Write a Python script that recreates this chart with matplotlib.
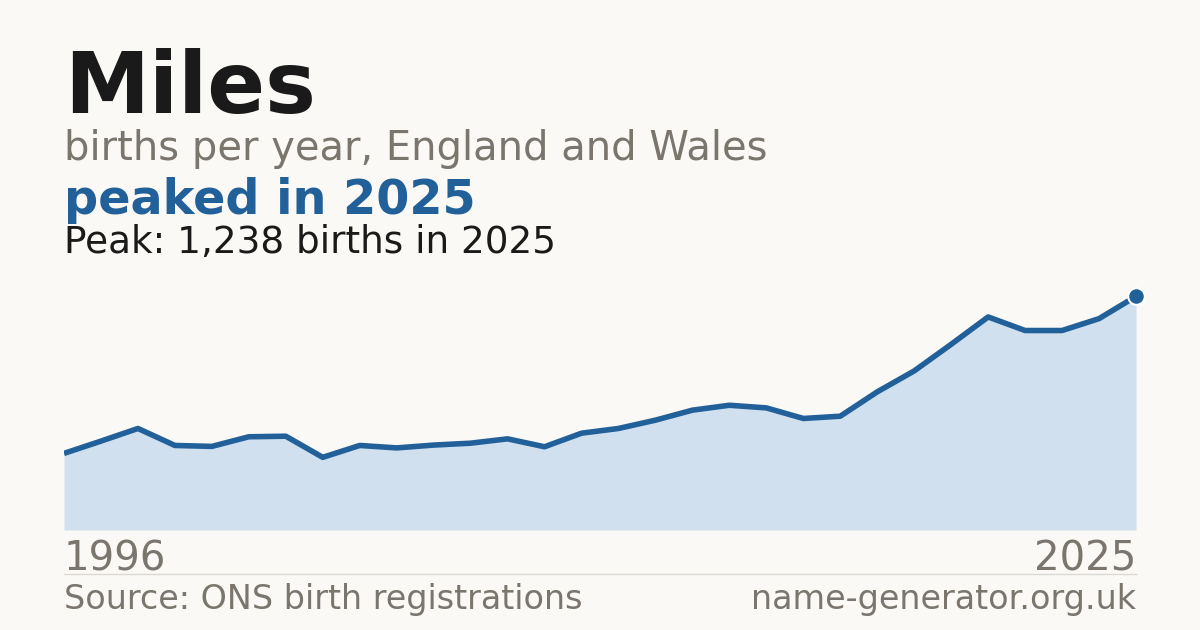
import matplotlib
matplotlib.use("Agg")
import matplotlib.pyplot as plt
import numpy as np

years = list(range(1996, 2026))
births = [406, 471, 538, 448, 443, 494, 497, 385, 448, 435,
          450, 460, 483, 441, 513, 538, 582, 635, 661, 647,
          591, 603, 732, 843, 984, 1129, 1057, 1057, 1120, 1238]

title = "Miles"
subtitle = "births per year, England and Wales"
headline = "peaked in 2025"
note = "Peak: 1,238 births in 2025"
source = "Source: ONS birth registrations"
site = "name-generator.org.uk"

bg = "#faf9f5"
blue = "#22609a"
fill_c = "#d0e0ef"
grey = "#7a756d"
dark = "#1a1a1a"

plt.rcParams['font.family'] = ['DejaVu Sans']

fig = plt.figure(figsize=(12, 6.3), dpi=100)
fig.patch.set_facecolor(bg)

ax = fig.add_axes([64/1200, 100/630, 1072/1200, 257/630])
ax.set_facecolor(bg)
ax.fill_between(years, births, 0, color=fill_c, lw=0, zorder=1)
ax.plot(years, births, color=blue, lw=4, solid_capstyle='butt', zorder=2)
peak_i = int(np.argmax(births))
ax.plot(years[peak_i], births[peak_i], 'o', ms=12, color=blue,
        mec='white', mew=1.5, zorder=3, clip_on=False)
ax.set_xlim(years[0], years[-1])
ax.set_ylim(0, max(births) * 1.1)
ax.axis('off')

x0 = 64/1200
x1 = 1136/1200
fig.text(x0, 0.8211, title, fontsize=61.5, fontweight='bold', color=dark, va='baseline')
fig.text(x0, 0.746, subtitle, fontsize=28.8, color=grey, va='baseline')
fig.text(x0, 0.6598, headline, fontsize=34.4, fontweight='bold', color=blue, va='baseline')
fig.text(x0, 0.5989, note, fontsize=26.9, color=dark, va='baseline')

fig.text(x0, 0.0952, str(years[0]), fontsize=29, color=grey, va='baseline')
fig.text(x1, 0.0952, str(years[-1]), fontsize=29, color=grey, va='baseline', ha='right')
fig.add_artist(plt.Line2D([x0, x1], [0.0889, 0.0889], color="#dcd9d2", lw=1))
fig.text(x0, 0.0333, source, fontsize=24, color=grey, va='baseline')
fig.text(x1, 0.0333, site, fontsize=24, color=grey, va='baseline', ha='right')

fig.savefig("out.png", dpi=100, facecolor=bg)
